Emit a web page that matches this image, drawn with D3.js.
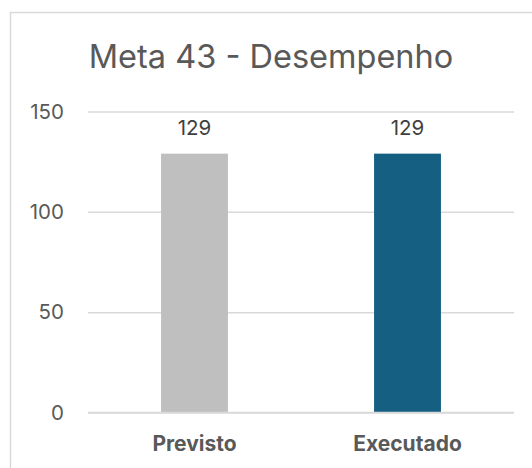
<!DOCTYPE html>
<html><head><meta charset="utf-8">
<script src="https://cdn.jsdelivr.net/npm/d3@7"></script>
<style>body{margin:0;background:#fff;} text{font-family:Inter,"Open Sans",sans-serif;}</style>
</head><body>
<svg id="c" width="532" height="468"></svg>
<script>
const title = "Meta 43 - Desempenho";
const categories = ["Previsto", "Executado"];
const values = [129, 129];
const colors = ["#BFBFBF", "#156082"];
const yTicks = [0, 50, 100, 150];

const svg = d3.select("#c");
svg.append("rect").attr("x", 10.5).attr("y", 12.5).attr("width", 540).attr("height", 470)
  .attr("fill", "#fff").attr("stroke", "#D9D9D9").attr("stroke-width", 1.5);

const x = d3.scaleBand().domain(categories).range([88, 514]).paddingInner(0.686).paddingOuter(0.343);
const y = d3.scaleLinear().domain([0, 150]).range([412.5, 111.5]);

svg.append("text").attr("x", 271).attr("y", 68).attr("text-anchor", "middle")
  .attr("font-size", 32.5).attr("fill", "#595959").text(title);

const yAxis = d3.axisLeft(y).tickValues(yTicks).tickSize(-(514 - 88)).tickPadding(24);
const ga = svg.append("g").attr("transform", "translate(88,0)").call(yAxis);
ga.select(".domain").remove();
ga.selectAll(".tick line").attr("stroke", "#D9D9D9").attr("stroke-width", 1.5);
ga.selectAll(".tick text").attr("font-size", 20.5).attr("fill", "#595959").attr("font-family", "Inter");

svg.selectAll("rect.bar").data(values).join("rect").attr("class", "bar")
  .attr("x", (d, i) => x(categories[i])).attr("width", x.bandwidth())
  .attr("y", d => y(d)).attr("height", d => y(0) - y(d))
  .attr("fill", (d, i) => colors[i]);

// redraw zero line on top
svg.append("line").attr("x1", 88).attr("x2", 514).attr("y1", y(0)).attr("y2", y(0))
  .attr("stroke", "#D9D9D9").attr("stroke-width", 1.5);

svg.selectAll("text.lbl").data(values).join("text").attr("class", "lbl")
  .attr("x", (d, i) => x(categories[i]) + x.bandwidth() / 2)
  .attr("y", d => y(d) - 18.5).attr("text-anchor", "middle")
  .attr("font-size", 20.5).attr("fill", "#404040").text(d => d);

const xAxis = d3.axisBottom(x).tickSize(0).tickPadding(24);
const gx = svg.append("g").attr("transform", `translate(0,${y(0)})`).call(xAxis);
gx.select(".domain").remove();
gx.selectAll(".tick text").attr("font-size", 21).attr("font-weight", "bold")
  .attr("fill", "#595959").attr("font-family", "Inter").attr("dy", "0.71em");
</script>
</body></html>
